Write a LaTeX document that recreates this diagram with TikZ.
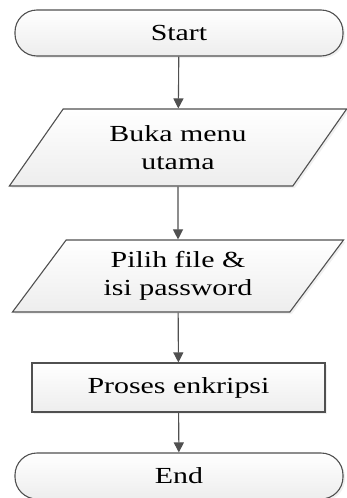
\documentclass[tikz,border=0pt]{standalone}
\usepackage{fontspec}
\setmainfont[FakeStretch=1.3]{Liberation Serif}
\usepackage{tikz}
\usetikzlibrary{shapes.geometric,arrows.meta,shadows}

\definecolor{garis}{HTML}{505050}

\begin{document}
\begin{tikzpicture}[x=1pt,y=-1pt,
		kotak/.style={draw=garis,line width=1.1pt,top color=white,bottom color=gray!14,
			drop shadow={opacity=0.12,shadow xshift=2pt,shadow yshift=-2pt},
			font=\fontsize{23}{28}\selectfont,align=center,inner sep=0pt},
		terminal/.style={kotak,rectangle,rounded corners=22pt,minimum width=328pt,minimum height=46pt},
		io/.style={kotak,trapezium,trapezium left angle=54,trapezium right angle=126,
			trapezium stretches=true},
		proses/.style={kotak,rectangle,minimum width=293pt,minimum height=49pt},
		panah/.style={draw=garis,line width=1.1pt,-{Triangle[width=10pt,length=10pt]}}]
		\useasboundingbox (0,0) rectangle (346,498);
		\node[terminal] (start) at (179,33) {Start};
		\node[io,minimum width=338pt,minimum height=77pt] (buka) at (178,147.5) {Buka menu\\utama};
		\node[io,minimum width=332pt,minimum height=72pt] (pilih) at (178,276) {Pilih file \&\\isi password};
		\node[proses] (enkripsi) at (178.5,387.5) {Proses enkripsi};
		\node[terminal] (end) at (179,476) {End};
		\draw[panah] (start) -- (buka);
		\draw[panah] (buka) -- (pilih);
		\draw[panah] (pilih) -- (enkripsi);
		\draw[panah] (enkripsi) -- (end);
	\end{tikzpicture}
\end{document}
